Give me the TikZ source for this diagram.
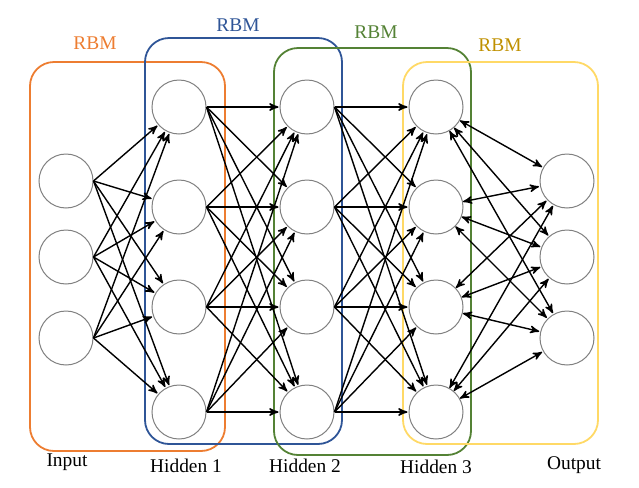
\documentclass[tikz,border=0pt]{standalone}
\usepackage{fontspec}
\setmainfont{Liberation Serif}
\usepackage{xcolor}
\usetikzlibrary{positioning,arrows}
\definecolor{rbmorange}{RGB}{237,125,49}
\definecolor{rbmblue}{RGB}{47,85,151}
\definecolor{rbmgreen}{RGB}{84,130,53}
\definecolor{rbmyellow}{RGB}{255,217,102}
\definecolor{rbmgold}{RGB}{191,144,0}

\begin{document}
\begin{tikzpicture}[x=0.5pt,y=-0.5pt,>=stealth',shorten >=0.5pt,
		font=\fontsize{9.7}{12}\selectfont,
		neuron/.style={circle,draw=gray,fill=white,line width=0.5pt,minimum size=27pt,inner sep=0pt},
		rbm/.style={rounded corners=12pt,line width=0.9pt},
		link/.style={->,line width=0.7pt},
		both/.style={<->,line width=0.7pt}]
		\useasboundingbox (0,0) rectangle (639,488);
	
		% RBM boxes
		\draw[rbm,rbmorange] (30,62) rectangle (225,451);
		\draw[rbm,rbmblue] (145,38) rectangle (342,444);
		\draw[rbm,rbmgreen] (274,48) rectangle (471,455);
		\draw[rbm,rbmyellow] (403,62) rectangle (598,444);
		\node[text=rbmorange] (l1) at (95,43) {RBM};
		\node[text=rbmblue] (l2) at (238,25) {RBM};
		\node[text=rbmgreen] (l3) at (376,32) {RBM};
		\node[text=rbmgold] (l4) at (500,45) {RBM};
	
		% layers
		\node[neuron] (i1) at (66,181) {};
		\node[neuron] (i2) at (66,257) {};
		\node[neuron] (i3) at (66,338) {};
		\foreach \n/\y in {1/107,2/207,3/307,4/412} {
			\node[neuron] (a\n) at (179,\y) {};
			\node[neuron] (b\n) at (307,\y) {};
			\node[neuron] (c\n) at (436,\y) {};
		}
		\node[neuron] (o1) at (567,181) {};
		\node[neuron] (o2) at (567,257) {};
		\node[neuron] (o3) at (567,338) {};
	
		\node (input) at (67,462) {Input};
		\node (hid1) at (186,466) {Hidden 1};
		\node (hid2) at (305,466) {Hidden 2};
		\node (hid3) at (436,467) {Hidden 3};
		\node (output) at (574,465) {Output};
	
		% connections
		\foreach \s in {1,2,3} \foreach \t in {1,...,4} {
			\draw[link] (i\s.east) -- (a\t);
			\draw[both] (c\t) -- (o\s);
		}
		\foreach \s in {1,...,4} \foreach \t in {1,...,4} {
			\draw[link] (a\s.east) -- (b\t);
			\draw[link] (b\s.east) -- (c\t);
		}
	\end{tikzpicture}
\end{document}
